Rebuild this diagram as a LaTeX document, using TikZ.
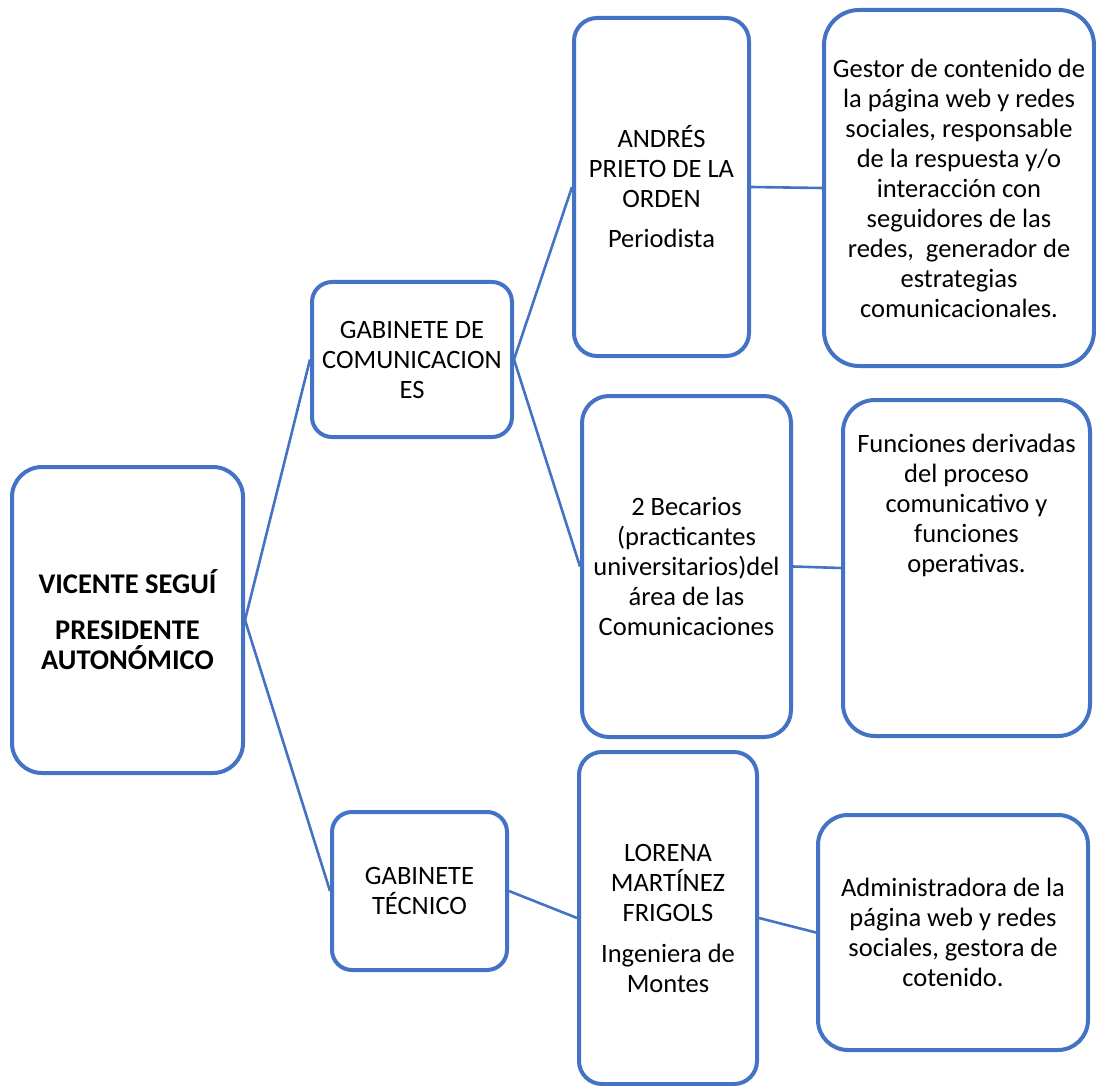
\documentclass[tikz,border=0pt]{standalone}
\usepackage{fontspec}
\setmainfont{Carlito}
\definecolor{boxblue}{RGB}{68,114,196}
\begin{document}
\begin{tikzpicture}[x=1pt,y=-1pt,
  box/.style={draw=boxblue, line width=4pt, fill=white, inner sep=0pt,
    align=center, font=\fontsize{26.5}{30}\selectfont},
  txt/.style={inner sep=0pt, align=center, font=\fontsize{26.5}{30}\selectfont},
  link/.style={draw=boxblue, line width=2.6pt}]
\useasboundingbox (0,0) rectangle (1096,1086);
% boxes
\node[box, minimum width=231pt, minimum height=306pt, rounded corners=30pt, font=\fontsize{28.5}{30}\selectfont\bfseries]
  (pres) at (127.5,620) {VICENTE SEGUÍ\\[16pt]PRESIDENTE\\AUTONÓMICO};
\node[box, minimum width=200pt, minimum height=155pt, rounded corners=20pt]
  (gcom) at (412,359.5) {GABINETE DE\\COMUNICACION\\ES};
\node[box, minimum width=175pt, minimum height=158pt, rounded corners=20pt]
  (gtec) at (419.5,891) {GABINETE\\TÉCNICO};
\node[box, minimum width=175pt, minimum height=338pt, rounded corners=23pt]
  (andres) at (661.5,187) {ANDRÉS\\PRIETO DE LA\\ORDEN\\[10pt]Periodista};
\node[box, minimum width=270pt, minimum height=356pt, rounded corners=35pt]
  (gestor) at (959,188) {Gestor de contenido de\\la página web y redes\\sociales, responsable\\de la respuesta y/o\\interacción con\\seguidores de las\\redes, \ generador de\\estrategias\\comunicacionales.};
\node[box, minimum width=209pt, minimum height=341pt, rounded corners=27pt]
  (becarios) at (686.5,566.5) {2 Becarios\\(practicantes\\universitarios)del\\área de las\\Comunicaciones};
\node[box, minimum width=247pt, minimum height=336pt, rounded corners=32pt]
  (func) at (966.5,568) {};
\node[txt] (functxt) at (966.5,505) {Funciones derivadas\\del proceso\\comunicativo y\\funciones\\operativas.};
\node[box, minimum width=178pt, minimum height=332pt, rounded corners=23pt]
  (lorena) at (668,918) {LORENA\\MARTÍNEZ\\FRIGOLS\\[11pt]Ingeniera de\\Montes};
\node[box, minimum width=270pt, minimum height=235pt, rounded corners=30pt]
  (admin) at (953,932.5) {Administradora de la\\página web y redes\\sociales, gestora de\\cotenido.};
% connectors
\draw[link] (pres.east) -- (gcom.west);
\draw[link] (pres.east) -- (gtec.west);
\draw[link] (gcom.east) -- (andres.west);
\draw[link] (gcom.east) -- (becarios.west);
\draw[link] (andres.east) -- (gestor.west);
\draw[link] (becarios.east) -- (func.west);
\draw[link] (gtec.east) -- (lorena.west);
\draw[link] (lorena.east) -- (admin.west);
\end{tikzpicture}
\end{document}
